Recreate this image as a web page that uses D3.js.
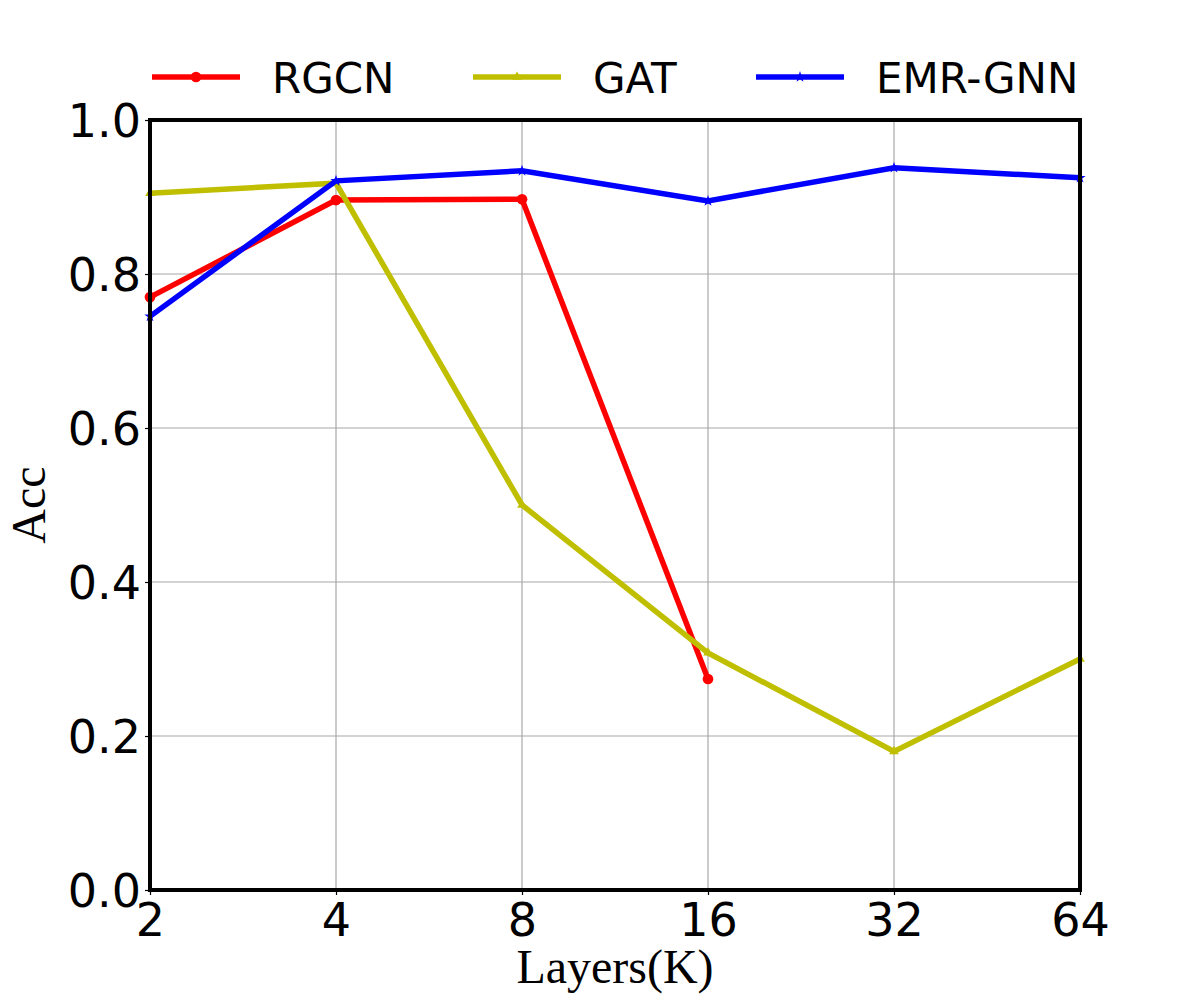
<!DOCTYPE html>
<html>
<head>
<meta charset="utf-8">
<script src="https://cdn.jsdelivr.net/npm/d3@7"></script>
<style>
  body { margin: 0; background: #fff; }
  .tick text { font-family: "DejaVu Sans", sans-serif; }
</style>
</head>
<body>
<div id="chart"></div>
<script>
// data
var layers = ["2", "4", "8", "16", "32", "64"];
var rgcnAcc = [0.770, 0.896, 0.897, 0.274, null, null];
var gatAcc = [0.905, 0.918, 0.500, 0.308, 0.180, 0.300];
var emrAcc = [0.745, 0.921, 0.934, 0.895, 0.938, 0.925];
var yTicks = [0.0, 0.2, 0.4, 0.6, 0.8, 1.0];

var seriesNames = ["RGCN", "GAT", "EMR-GNN"];
var seriesColors = ["#ff0000", "#bfbf00", "#0000ff"];
var seriesMarkers = ["circle", "triangle", "star"];

//SVG area
var svgWidth = 1200;
var svgHeight = 1000;

var chartMargin = {
    top: 120,
    right: 120,
    bottom: 110,
    left: 150
};

var chartWidth = svgWidth - chartMargin.left - chartMargin.right;
var chartHeight = svgHeight - chartMargin.top - chartMargin.bottom;

var svg = d3.select("#chart")
    .append("svg")
    .attr("width", svgWidth)
    .attr("height", svgHeight);

var chartGroup = svg.append("g")
    .attr("transform", `translate(${chartMargin.left}, ${chartMargin.top})`);

//Scales
var xScale = d3.scalePoint()
    .domain(layers)
    .range([0, chartWidth])
    .padding(0);

var yScale = d3.scaleLinear()
    .domain([0, 1])
    .range([chartHeight, 0]);

//Grid lines
chartGroup.append("g")
    .selectAll("line")
    .data(layers)
    .enter()
    .append("line")
    .attr("x1", d => xScale(d))
    .attr("x2", d => xScale(d))
    .attr("y1", 0)
    .attr("y2", chartHeight)
    .attr("stroke", "#a8a8a8")
    .attr("stroke-width", 1.2);

chartGroup.append("g")
    .selectAll("line")
    .data(yTicks)
    .enter()
    .append("line")
    .attr("x1", 0)
    .attr("x2", chartWidth)
    .attr("y1", d => yScale(d))
    .attr("y2", d => yScale(d))
    .attr("stroke", "#a8a8a8")
    .attr("stroke-width", 1.2);

//Axes
var bottomAxis = d3.axisBottom(xScale).tickSize(5).tickPadding(4);
var leftAxis = d3.axisLeft(yScale).tickValues(yTicks).tickFormat(d3.format(".1f")).tickSize(5).tickPadding(4);

var xAxis = chartGroup.append("g")
    .attr("transform", `translate(0, ${chartHeight})`)
    .call(bottomAxis);

var yAxis = chartGroup.append("g")
    .call(leftAxis);

[xAxis, yAxis].forEach(function(ax) {
    ax.select(".domain").remove();
    ax.selectAll(".tick line").attr("stroke", "#000").attr("stroke-width", 1.2);
    ax.selectAll(".tick text")
        .attr("font-size", "46px")
        .attr("fill", "#000");
});
xAxis.selectAll(".tick text").attr("dy", "0.8em");
yAxis.selectAll(".tick text").attr("dy", "0.36em");

//Series lines
var allSeries = [rgcnAcc, gatAcc, emrAcc];

var lineGen = d3.line()
    .defined(d => d.v !== null)
    .x(d => xScale(d.k))
    .y(d => yScale(d.v));

function markerPath(type, size) {
    if (type === "circle") return d3.symbol(d3.symbolCircle, size)();
    if (type === "triangle") return d3.symbol(d3.symbolTriangle, size)();
    return d3.symbol(d3.symbolStar, size)();
}

allSeries.forEach(function(values, i) {
    var pts = layers.map((k, j) => ({ k: k, v: values[j] }));

    chartGroup.append("path")
        .datum(pts)
        .attr("fill", "none")
        .attr("stroke", seriesColors[i])
        .attr("stroke-width", 5.5)
        .attr("stroke-linejoin", "miter")
        .attr("d", lineGen);

    chartGroup.selectAll(null)
        .data(pts.filter(d => d.v !== null))
        .enter()
        .append("path")
        .attr("transform", d => `translate(${xScale(d.k)}, ${yScale(d.v)})`)
        .attr("d", markerPath(seriesMarkers[i], i === 0 ? 90 : 40))
        .attr("fill", seriesColors[i]);
});

//Frame
chartGroup.append("rect")
    .attr("x", 0)
    .attr("y", 0)
    .attr("width", chartWidth)
    .attr("height", chartHeight)
    .attr("fill", "none")
    .attr("stroke", "#000")
    .attr("stroke-width", 4);

//Axis labels
chartGroup.append("text")
    .attr("x", chartWidth / 2)
    .attr("y", chartHeight + 93)
    .attr("text-anchor", "middle")
    .attr("font-family", "Liberation Serif, serif")
    .attr("font-size", "48px")
    .attr("fill", "#000")
    .text("Layers(K)");

chartGroup.append("text")
    .attr("transform", "rotate(-90)")
    .attr("x", 0 - chartHeight / 2)
    .attr("y", 0 - chartMargin.left + 45)
    .attr("text-anchor", "middle")
    .attr("font-family", "Liberation Serif, serif")
    .attr("font-size", "48px")
    .attr("fill", "#000")
    .text("Acc");

//Legend
var legendX = [152, 473, 756];
var legendGroup = svg.append("g");

seriesNames.forEach(function(name, i) {
    var g = legendGroup.append("g")
        .attr("transform", `translate(${legendX[i]}, 77)`);

    g.append("line")
        .attr("x1", 0)
        .attr("x2", 88)
        .attr("y1", 0)
        .attr("y2", 0)
        .attr("stroke", seriesColors[i])
        .attr("stroke-width", 5.5);

    g.append("path")
        .attr("transform", "translate(44, 0)")
        .attr("d", markerPath(seriesMarkers[i], i === 0 ? 90 : 40))
        .attr("fill", seriesColors[i]);

    g.append("text")
        .attr("x", 120)
        .attr("y", 16)
        .attr("font-family", "DejaVu Sans, sans-serif")
        .attr("font-size", "42px")
        .attr("fill", "#000")
        .text(name);
});
</script>
</body>
</html>
